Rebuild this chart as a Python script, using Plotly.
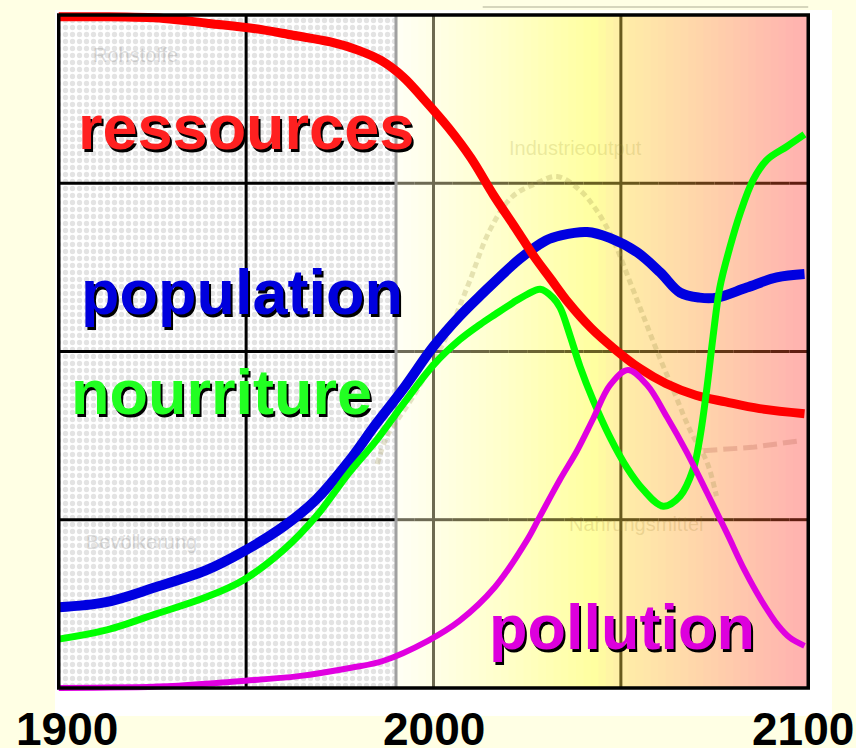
import plotly.graph_objects as go

# ---------------- data ----------------
RES_YEARS = [1900, 1911, 1928, 1940, 1952, 1962.5, 1972.5, 1980, 1986, 1992, 1997, 2004, 2010,
             2016, 2022, 2027, 2031, 2036, 2042, 2048, 2055, 2062, 2070, 2078, 2087, 2099]
RES_VALUES = [3.99, 3.99, 3.98, 3.95, 3.92, 3.88, 3.84, 3.79, 3.73, 3.63, 3.51, 3.33, 3.15,
              2.93, 2.73, 2.56, 2.44, 2.29, 2.14, 2.02, 1.90, 1.81, 1.74, 1.70, 1.66, 1.63]

POP_YEARS = [1900, 1912.6, 1926, 1939.4, 1949.2, 1960, 1968.7, 1977.5, 1984.7, 1992, 2000, 2007,
             2012.4, 2023, 2030, 2034, 2041, 2047, 2054.3, 2060.5, 2065.8, 2071, 2075.6, 2083.6,
             2091.6, 2099]
POP_VALUES = [0.48, 0.51, 0.60, 0.70, 0.81, 0.96, 1.12, 1.35, 1.57, 1.78, 2.03, 2.21,
              2.33, 2.55, 2.66, 2.69, 2.71, 2.675, 2.59, 2.47, 2.35, 2.32, 2.32, 2.38,
              2.44, 2.46]

FOOD_YEARS = [1900, 1912, 1926, 1939.4, 1949.2, 1960, 1968.7, 1977.5, 1984.7, 1992, 2000, 2007,
              2012.4, 2016.4, 2021.2, 2025, 2028.5, 2031.9, 2033.8, 2036.5, 2039.1, 2042.6,
              2047.1, 2051.6, 2055.9, 2061.3, 2065.8, 2069.3, 2071.1, 2073, 2074.6, 2076.4,
              2079.1, 2081.8, 2085.3, 2089, 2094.4, 2099]
FOOD_VALUES = [0.29, 0.34, 0.44, 0.54, 0.64, 0.82, 1.02, 1.28, 1.47, 1.69, 1.92, 2.07,
               2.16, 2.22, 2.29, 2.34, 2.37, 2.32, 2.26, 2.09, 1.91, 1.71,
               1.49, 1.31, 1.18, 1.08, 1.14, 1.30, 1.49, 1.79, 2.09, 2.38,
               2.62, 2.82, 3.02, 3.14, 3.22, 3.29]

POLL_YEARS = [1900, 1929, 1948, 1964, 1978, 1986.5, 1998.5, 2007, 2016.4, 2025, 2028.4, 2033.8,
              2038.3, 2042.6, 2047.1, 2051.9, 2057, 2062.3, 2067.6, 2073, 2078.3, 2083,
              2087.5, 2092, 2095, 2099]
POLL_VALUES = [0.00, 0.01, 0.04, 0.07, 0.12, 0.16, 0.28, 0.40, 0.60, 0.88, 1.02, 1.24,
               1.41, 1.60, 1.80, 1.89, 1.80, 1.61, 1.40, 1.16, 0.92, 0.70,
               0.52, 0.37, 0.30, 0.25]

# faint background curves (ghost of the original chart)
IND_YEARS = [1985, 1987.5, 1994.5, 2003.5, 2009.5, 2015, 2021, 2027.5, 2033, 2039, 2043.5, 2048,
             2052.5, 2056, 2059.5, 2064, 2068.5, 2073, 2075.5]
IND_VALUES = [1.33, 1.49, 1.73, 2.09, 2.41, 2.72, 2.92, 3.00, 3.04, 2.96, 2.84, 2.66, 2.41,
              2.21, 2.01, 1.77, 1.53, 1.34, 1.14]
GHOST2_YEARS = [2072, 2085, 2098]
GHOST2_VALUES = [1.41, 1.43, 1.47]

SERIES_LABELS = ["ressources", "population", "nourriture", "pollution"]
GHOST_LABELS = ["Industrieoutput", "Nahrungsmittel", "Rohstoffe", "Bevölkerung"]

TICK_YEARS = [1900, 2000, 2100]
TICK_LABELS = ["1900", "2000", "2100"]
GRID_X = [1950, 2000, 2050]
GRID_Y = [1, 2, 3]
X_START, X_END = 1900, 2100
Y_MIN, Y_MAX = 0, 4
HISTORY_END = 1990   # end of the hatched (historical) band

# ---------------- styling helpers ----------------
def lerp_color(stops, x):
    for (x0, c0), (x1, c1) in zip(stops, stops[1:]):
        if x0 <= x <= x1:
            t = (x - x0) / (x1 - x0)
            return tuple(round(a + (b - a) * t) for a, b in zip(c0, c1))
    return stops[-1][1] if x > stops[-1][0] else stops[0][1]

BG_STOPS = [(1990, (255, 255, 246)), (2020, (255, 255, 200)), (2043, (255, 255, 160)),
            (2050, (255, 238, 168)), (2070, (255, 214, 170)), (2100, (255, 176, 176))]
GRID_STOPS = [(1990, (110, 108, 92)), (2045, (105, 96, 30)), (2100, (95, 25, 15))]

def rgb(c):
    return "rgb(%d,%d,%d)" % c

shapes = []
# white card behind the plot
shapes.append(dict(type="rect", xref="paper", yref="paper", x0=-0.0, x1=1.0264, y0=-0.026, y1=1.0,
                   fillcolor="white", line=dict(width=0), layer="below"))
# gradient band for the future
step = 2
y0 = HISTORY_END
while y0 < X_END:
    c = lerp_color(BG_STOPS, y0 + step / 2)
    shapes.append(dict(type="rect", xref="x", yref="y", x0=y0, x1=min(y0 + step + 0.4, X_END),
                       y0=Y_MIN, y1=Y_MAX, fillcolor=rgb(c), line=dict(width=0), layer="below"))
    y0 += step
# gridlines in the future band
seg = 5
for gy in GRID_Y:
    s = HISTORY_END
    while s < X_END:
        c = lerp_color(GRID_STOPS, s + seg / 2)
        shapes.append(dict(type="line", xref="x", yref="y", x0=s, x1=min(s + seg, X_END),
                           y0=gy, y1=gy, line=dict(color=rgb(c), width=3), layer="below"))
        s += seg
for gx in GRID_X:
    if gx > HISTORY_END:
        c = lerp_color(GRID_STOPS, gx)
        shapes.append(dict(type="line", xref="x", yref="y", x0=gx, x1=gx, y0=Y_MIN, y1=Y_MAX,
                           line=dict(color=rgb(c), width=3), layer="below"))
# faint streaks above the frame
shapes.append(dict(type="line", xref="paper", yref="paper", x0=0.565, x1=0.995, y0=1.0045, y1=1.0045,
                   line=dict(color="#d6d6bc", width=2), layer="below"))
# frame
shapes.append(dict(type="rect", xref="x", yref="y", x0=X_START, x1=X_END, y0=Y_MIN, y1=Y_MAX,
                   line=dict(color="black", width=3.5), fillcolor="rgba(0,0,0,0)", layer="above"))

fig = go.Figure()

# hatched historical band
fig.add_trace(go.Scatter(
    x=[X_START, HISTORY_END, HISTORY_END, X_START, X_START],
    y=[Y_MIN, Y_MIN, Y_MAX, Y_MAX, Y_MIN],
    mode="lines", fill="toself", line=dict(width=0),
    fillcolor="white",
    fillpattern=dict(shape=".", fgcolor="#c8c8c8", bgcolor="white", size=7, solidity=0.45),
    hoverinfo="skip", showlegend=False))
# black gridlines over the hatched band
for gy in GRID_Y:
    fig.add_trace(go.Scatter(x=[X_START, HISTORY_END], y=[gy, gy], mode="lines",
                             line=dict(color="black", width=3), hoverinfo="skip", showlegend=False))
for gx in GRID_X:
    if gx < HISTORY_END:
        fig.add_trace(go.Scatter(x=[gx, gx], y=[Y_MIN, Y_MAX], mode="lines",
                                 line=dict(color="black", width=3), hoverinfo="skip", showlegend=False))
fig.add_trace(go.Scatter(x=[HISTORY_END, HISTORY_END], y=[Y_MIN, Y_MAX], mode="lines",
                         line=dict(color="#a0a0a0", width=3), hoverinfo="skip", showlegend=False))

# ghost curves
fig.add_trace(go.Scatter(x=IND_YEARS, y=IND_VALUES, mode="lines", line_shape="spline",
                         line=dict(color="rgba(160,150,80,0.28)", width=5, dash="6px,4px"),
                         hoverinfo="skip", showlegend=False))
fig.add_trace(go.Scatter(x=GHOST2_YEARS, y=GHOST2_VALUES, mode="lines",
                         line=dict(color="rgba(190,110,90,0.3)", width=5, dash="14px,6px"),
                         hoverinfo="skip", showlegend=False))

# main series
fig.add_trace(go.Scatter(x=POP_YEARS, y=POP_VALUES, mode="lines", line_shape="spline",
                         line=dict(color="#0000e0", width=10), name=SERIES_LABELS[1], showlegend=False))
fig.add_trace(go.Scatter(x=RES_YEARS, y=RES_VALUES, mode="lines", line_shape="spline",
                         line=dict(color="#ff0000", width=9), name=SERIES_LABELS[0], showlegend=False))
fig.add_trace(go.Scatter(x=FOOD_YEARS, y=FOOD_VALUES, mode="lines", line_shape="spline",
                         line=dict(color="#00ff00", width=7), name=SERIES_LABELS[2], showlegend=False))
fig.add_trace(go.Scatter(x=POLL_YEARS, y=POLL_VALUES, mode="lines", line_shape="spline",
                         line=dict(color="#e000e0", width=6), name=SERIES_LABELS[3], showlegend=False))

FONT = "Liberation Sans, Arial, sans-serif"
annotations = []
# ghost labels
ghost_pos = [(2037.8, 3.21, "rgba(150,140,40,0.2)"), (2054.3, 0.975, "rgba(150,120,40,0.2)"),
             (1920.4, 3.76, "rgba(120,120,120,0.25)"), (1922.0, 0.87, "rgba(120,120,120,0.25)")]
for lab, (gx, gy, col) in zip(GHOST_LABELS, ghost_pos):
    annotations.append(dict(x=gx, y=gy, xref="x", yref="y", text=lab, showarrow=False,
                            font=dict(family=FONT, size=20, color=col)))
# series labels with drop shadow
label_pos = [(1950.0, 3.335, "#ff2020"), (1948.9, 2.354, "#0000dd"),
             (1943.3, 1.760, "#22ff22"), (2050.3, 0.363, "#dd00dd")]
for lab, (lx, ly, col) in zip(SERIES_LABELS, label_pos):
    annotations.append(dict(x=lx, y=ly, xref="x", yref="y", text="<b>%s</b>" % lab, showarrow=False,
                            xshift=2, yshift=-3, font=dict(family=FONT, size=63, color="black")))
    annotations.append(dict(x=lx, y=ly, xref="x", yref="y", text="<b>%s</b>" % lab, showarrow=False,
                            font=dict(family=FONT, size=63, color=col)))
# tick labels
tick_shift = [8, 0, -5]
for tv, tl, sh in zip(TICK_YEARS, TICK_LABELS, tick_shift):
    annotations.append(dict(x=tv, y=-0.045, xref="x", yref="paper", text="<b>%s</b>" % tl,
                            showarrow=False, xshift=sh, yanchor="middle",
                            font=dict(family=FONT, size=46, color="black")))

fig.update_layout(
    width=856, height=748,
    margin=dict(l=55, r=44, t=10, b=50),
    paper_bgcolor="#ffffe4",
    plot_bgcolor="rgba(0,0,0,0)",
    shapes=shapes,
    annotations=annotations,
    xaxis=dict(range=[1899, 2101], showgrid=False, zeroline=False, showticklabels=False,
               ticks="", showline=False, fixedrange=True),
    yaxis=dict(range=[-0.06, 4.03], showgrid=False, zeroline=False, showticklabels=False,
               ticks="", showline=False, fixedrange=True),
    showlegend=False,
)

fig.write_html("out.html",
               config={"displayModeBar": False},
               post_script="document.body.style.margin='0';document.body.style.padding='0';"
                           "document.body.style.background='#ffffe4';")
